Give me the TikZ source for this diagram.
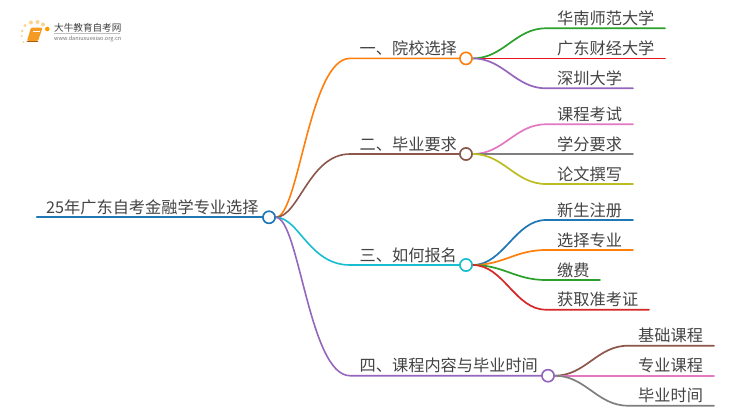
\documentclass[tikz,border=0pt]{standalone}
\usepackage{fontspec}
\setmainfont{Noto Sans CJK SC}
\usetikzlibrary{calc}
\definecolor{txt}{HTML}{444444}
\definecolor{cblue}{HTML}{1F77B4}
\definecolor{corange}{HTML}{FF7F0E}
\definecolor{cbrown}{HTML}{8C564B}
\definecolor{ccyan}{HTML}{17BECF}
\definecolor{cpurple}{HTML}{9467BD}
\definecolor{cgreen}{HTML}{2CA02C}
\definecolor{cred}{HTML}{D62728}
\definecolor{cbright}{HTML}{E6121A}
\definecolor{cpink}{HTML}{E377C2}
\definecolor{cgray}{HTML}{7F7F7F}
\definecolor{colive}{HTML}{BCBD22}
\definecolor{logodot}{HTML}{FBD28F}
\definecolor{logobook}{HTML}{F59A23}
\tikzset{
  lab/.style={anchor=base west,inner sep=0pt,text=txt,font=\fontsize{16.2}{18}\selectfont},
  hub/.style={circle,draw=#1,line width=1.5pt,fill=white,minimum size=12pt,inner sep=0pt},
  link/.style={draw=#1,line width=1.7pt,line cap=round},
  mainlink/.style={draw=#1,line width=1.6pt,line cap=round},
  logotext/.style={inner sep=0pt,anchor=base west,text=#1}
}
\newcommand{\branch}[5]{%
  \draw[link=#1] (#2.east) .. controls ++(#5,0) and ($(#3)+(-#5,0)$) .. (#3) -- (#4);}
\begin{document}
\begin{tikzpicture}[x=1pt,y=-1pt]
\useasboundingbox (0,0) rectangle (750,410);
\fill[white] (0,0) rectangle (750,410);
% logo
\foreach \x/\y/\r in {25/25.5/1.7,31/22.5/2,37.5/22/2,43/24.5/2,22.3/31/1.4,21.8/36/1.2,23.5/42/1}
  \fill[logodot] (\x,\y) circle (\r);
\fill[orange!80!yellow] (47.3,29) circle (2.3);
\fill[logobook,rounded corners=1.2pt] (31,27.5) -- (42.5,27.5) -- (38,41) -- (27,41) -- cycle;
\draw[white,line width=.5pt] (33,31) -- (39.5,31);
\draw[corange!70!black,line width=.7pt,line cap=round] (27,41.8) -- (38,41.8);
\node[logotext=black!75,font=\fontsize{9.6}{10}\selectfont] (logoa) at (54,31.5) {大牛教育自考网};
\draw[black!25,line width=.4pt] (54,33.5) -- (120,33.5);
\node[logotext=black!55,font=\fontsize{5.55}{6}\selectfont] (logob) at (54,40.7) {www.daniuxuexiao.org.cn};
% hubs
\node[hub=cblue] (root) at (269,217.3) {};
\node[hub=corange] (h1) at (466,58.4) {};
\node[hub=cbrown] (h2) at (466,154) {};
\node[hub=ccyan] (h3) at (466,265) {};
\node[hub=cpurple] (h4) at (548,375.7) {};
% free ends
\foreach \n/\x/\y in {rs/37/217.3,
  a1/350/58.4,b1/350/154,c1/350/265,d1/350/375.7,
  p1/546/28.3,q1/665/28.3,p2/546/58.4,q2/665/58.4,p3/546/88.3,q3/633/88.3,
  p4/546/124.3,q4/633/124.3,p5/546/154,q5/633/154,p6/546/184,q6/633/184,
  p7/546/220,q7/633/220,p8/546/250,q8/633/250,p9/546/280,q9/600/280,p10/546/309.7,q10/649/309.7,
  p11/628/345.7,q11/714/345.7,p12/628/375.7,q12/714/375.7,p13/628/405.7,q13/714/405.7}
  \coordinate (\n) at (\x,\y);
% root and branches
\draw[link=cblue,line width=2.2pt] (rs) -- (root.west);
\draw[mainlink=corange] (root.east) .. controls (299,217.3) and (309,58.4) .. (a1) -- (h1.west);
\draw[mainlink=cbrown] (root.east) .. controls (299,217.3) and (309,154) .. (b1) -- (h2.west);
\draw[mainlink=ccyan] (root.east) .. controls (299,217.3) and (309,265) .. (c1) -- (h3.west);
\draw[mainlink=cpurple] (root.east) .. controls (299,217.3) and (309,375.7) .. (d1) -- (h4.west);
\branch{cgreen}{h1}{p1}{q1}{31}
\branch{cbright}{h1}{p2}{q2}{31}
\branch{cpurple}{h1}{p3}{q3}{31}
\branch{cpink}{h2}{p4}{q4}{31}
\branch{cgray}{h2}{p5}{q5}{31}
\branch{colive}{h2}{p6}{q6}{31}
\branch{cblue}{h3}{p7}{q7}{31}
\branch{corange}{h3}{p8}{q8}{31}
\branch{cgreen}{h3}{p9}{q9}{31}
\branch{cred}{h3}{p10}{q10}{31}
\branch{cbrown}{h4}{p11}{q11}{31}
\branch{cpink}{h4}{p12}{q12}{31}
\branch{cgray}{h4}{p13}{q13}{31}
% hubs on top of the line ends
\node[hub=cblue] at (root) {};
\node[hub=corange] at (h1) {};
\node[hub=cbrown] at (h2) {};
\node[hub=ccyan] at (h3) {};
\node[hub=cpurple] at (h4) {};
% labels
\node[lab] (t0) at (46,213.4) {25年广东自考金融学专业选择};
\node[lab] (t1) at (359.5,54.6) {一、院校选择};
\node[lab] (t2) at (359.5,150.2) {二、毕业要求};
\node[lab] (t3) at (359.5,261.2) {三、如何报名};
\node[lab] (t4) at (359.5,371.9) {四、课程内容与毕业时间};
\node[lab] (l1) at (557,24.2) {华南师范大学};
\node[lab] (l2) at (557,54.2) {广东财经大学};
\node[lab] (l3) at (557,84.2) {深圳大学};
\node[lab] (l4) at (557,120.2) {课程考试};
\node[lab] (l5) at (557,150.2) {学分要求};
\node[lab] (l6) at (557,180.2) {论文撰写};
\node[lab] (l7) at (557,216.2) {新生注册};
\node[lab] (l8) at (557,246.2) {选择专业};
\node[lab] (l9) at (557,276.2) {缴费};
\node[lab] (l10) at (557,305.9) {获取准考证};
\node[lab] (l11) at (638,341.9) {基础课程};
\node[lab] (l12) at (638,371.9) {专业课程};
\node[lab] (l13) at (638,401.9) {毕业时间};
\end{tikzpicture}
\end{document}
